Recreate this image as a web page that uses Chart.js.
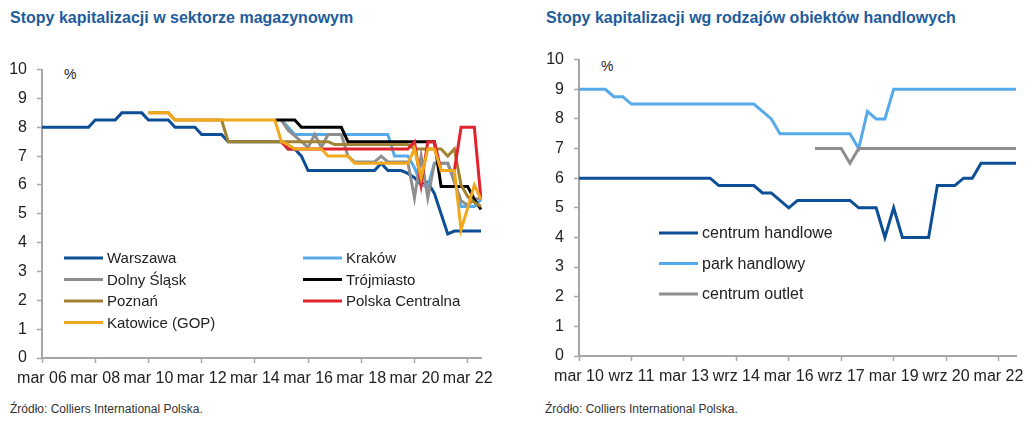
<!DOCTYPE html>
<html>
<head>
<meta charset="utf-8">
<script src="https://cdn.jsdelivr.net/npm/chart.js@4.4.1/dist/chart.umd.min.js"></script>
<style>
  body { margin: 0; width: 1036px; height: 421px; background: #fff; position: relative; overflow: hidden; font-family: 'Liberation Sans', Arial, sans-serif; }
  .title { position: absolute; top: 9px; font-weight: bold; font-size: 16px; color: #1f5c9c; white-space: nowrap; }
  .src { position: absolute; top: 402px; font-size: 12px; color: #333; white-space: nowrap; }
  .pct { position: absolute; font-size: 14px; color: #222; }
  .box { position: absolute; }
</style>
</head>
<body>
<div class="title" style="left:10px">Stopy kapitalizacji w sektorze magazynowym</div>
<div class="title" style="left:546px">Stopy kapitalizacji wg rodzajów obiektów handlowych</div>
<div class="pct" style="left:64px;top:66px">%</div>
<div class="pct" style="left:601px;top:58px">%</div>
<div class="box" style="left:0;top:50px;width:500px;height:345px"><canvas id="warehouse"></canvas></div>
<div class="box" style="left:530px;top:40px;width:506px;height:355px"><canvas id="retail"></canvas></div>
<div class="src" style="left:10px">Źródło: Colliers International Polska.</div>
<div class="src" style="left:545px">Źródło: Colliers International Polska.</div>
<script>
// quarterly categories (mar, cze, wrz, gru)
const months = ['mar', 'cze', 'wrz', 'gru'];
function quarters(startYear, count) {
  const out = [];
  for (let i = 0; i < count; i++) {
    const yy = String((startYear + Math.floor(i / 4)) % 100).padStart(2, '0');
    out.push(months[i % 4] + ' ' + yy);
  }
  return out;
}

// left chart: mar 06 .. wrz 22
const whQuarters = quarters(2006, 67);
const whTicks = ['mar 06', 'mar 08', 'mar 10', 'mar 12', 'mar 14', 'mar 16', 'mar 18', 'mar 20', 'mar 22'];
const _ = null;

const warszawa = [8, 8, 8, 8, 8, 8, 8, 8, 8.25, 8.25, 8.25, 8.25, 8.5, 8.5, 8.5, 8.5,
  8.25, 8.25, 8.25, 8.25, 8, 8, 8, 8, 7.75, 7.75, 7.75, 7.75, 7.5, 7.5, 7.5, 7.5, 7.5, 7.5, 7.5, 7.5, 7.5,
  7.25, 7.25, 7, 6.5, 6.5, 6.5, 6.5, 6.5, 6.5, 6.5, 6.5, 6.5, 6.5, 6.5, 6.75, 6.5, 6.5, 6.5,
  6.4, 6.25, 6, 6.1, 5.7, 5, 4.3, 4.4, 4.4, 4.4, 4.4, 4.4];
const krakow = [_, _, _, _, _, _, _, _, _, _, _, _, _, _, _, _, _, _, _, _, _, _, _, _, _, _, _, _, _, _, _, _, _, _, _, _,
  8.25, 8, 7.75, 7.75, 7.75, 7.75, 7.75, 7.75, 7.75, 7.75, 7.75, 7.75, 7.75, 7.75, 7.75, 7.75, 7.75,
  7, 7, 7, 6.6, 6, 5.95, 6.75, 6.75, 6.75, 6.2, 5.25, 5.25, 5.25, 5.5];
const dolnySlask = [_, _, _, _, _, _, _, _, _, _, _, _, _, _, _, _, _, _, _, _, _, _, _, _, _, _, _, _, _, _, _, _, _, _, _, _,
  8.25, 7.9, 7.7, 7.5, 7.3, 7.75, 7.3, 7.75, 7.75, 7.75, 7, 6.8, 6.8, 6.8, 6.8, 7, 6.8, 6.8, 6.8, 6.8,
  5.55, 7, 5.55, 6.75, 6.75, 6.75, 6.1, 5.45, 5.3, 5.5, 5.55];
const trojmiasto = [_, _, _, _, _, _, _, _, _, _, _, _, _, _, _, _, _, _, _, _, _, _, _, _, _, _, _, _, _, _, _, _, _, _, _,
  8.25, 8.25, 8.25, 8.25, 8, 8, 8, 8, 8, 8, 8, 7.5, 7.5, 7.5, 7.5, 7.5, 7.5, 7.5, 7.5, 7.5, 7.5, 7.5, 7.5, 7.5, 7.5,
  5.95, 5.95, 5.95, 5.95, 5.95, 5.5, 5.15];
const poznan = [_, _, _, _, _, _, _, _, _, _, _, _, _, _, _, _,
  8.5, 8.5, 8.5, 8.5, 8.25, 8.25, 8.25, 8.25, 8.25, 8.25, 8.25, 8.25,
  7.5, 7.5, 7.5, 7.5, 7.5, 7.5, 7.5, 7.5, 7.5, 7.5, 7.5, 7.5, 7.5, 7.5, 7.5, 7.5, 7.4, 7.4, 7.4, 7.4, 7.4, 7.4, 7.4, 7.4, 7.4, 7.4, 7.4, 7.4,
  7.25, 7.25, 7.25, 7.25, 7.25, 7, 7.25, 6, 5.6, 5.4, 5.25];
const polskaCentralna = [_, _, _, _, _, _, _, _, _, _, _, _, _, _, _, _, _, _, _, _, _, _, _, _, _, _, _, _, _, _, _, _, _, _, _, _,
  7.5, 7.25, 7.25, 7.25, 7.25, 7.25, 7.25, 7.25, 7.25, 7.25, 7.25, 7.25, 7.25, 7.25, 7.25, 7.25, 7.25, 7.25, 7.25, 7.25,
  7.5, 6, 7.5, 7.5, 6.5, 6.5, 6.5, 8, 8, 8, 5.5];
const katowice = [_, _, _, _, _, _, _, _, _, _, _, _, _, _, _, _,
  8.5, 8.5, 8.5, 8.5, 8.25, 8.25, 8.25, 8.25, 8.25, 8.25, 8.25, 8.25, 8.25, 8.25, 8.25, 8.25, 8.25, 8.25, 8.25, 8.25,
  7.5, 7.4, 7.25, 7.25, 7.25, 7.25, 7.25, 7, 7, 7, 7, 6.75, 6.75, 6.75, 6.75, 6.75, 6.75, 6.75, 6.75, 6.75,
  7.25, 6.25, 7.25, 7.25, 6.5, 6.5, 6.5, 4.45, 5.2, 6, 5.5];

const whNames = ['Warszawa', 'Kraków', 'Dolny Śląsk', 'Trójmiasto', 'Poznań', 'Polska Centralna', 'Katowice (GOP)'];
const whSeries = [warszawa, krakow, dolnySlask, trojmiasto, poznan, polskaCentralna, katowice];
const whColors = ['#0d4f96', '#56aaea', '#8e8e8e', '#000000', '#a08232', '#e1232d', '#f2a81d'];

// right chart: mar 10 .. wrz 22
const rtQuarters = quarters(2010, 51);
const rtTicks = ['mar 10', 'wrz 11', 'mar 13', 'wrz 14', 'mar 16', 'wrz 17', 'mar 19', 'wrz 20', 'mar 22'];

const centrumHandlowe = [6, 6, 6, 6, 6, 6, 6, 6, 6, 6, 6, 6, 6, 6, 6, 6,
  5.75, 5.75, 5.75, 5.75, 5.75, 5.5, 5.5, 5.25, 5, 5.25, 5.25, 5.25, 5.25, 5.25, 5.25, 5.25,
  5, 5, 5, 4, 5, 4, 4, 4, 4, 5.75, 5.75, 5.75, 6, 6, 6.5, 6.5, 6.5, 6.5, 6.5];
const parkHandlowy = [9, 9, 9, 9, 8.75, 8.75, 8.5, 8.5, 8.5, 8.5, 8.5, 8.5, 8.5, 8.5, 8.5, 8.5, 8.5, 8.5, 8.5, 8.5, 8.5,
  8.25, 8, 7.5, 7.5, 7.5, 7.5, 7.5, 7.5, 7.5, 7.5, 7.5, 7, 8.25, 8, 8,
  9, 9, 9, 9, 9, 9, 9, 9, 9, 9, 9, 9, 9, 9, 9];
const centrumOutlet = [_, _, _, _, _, _, _, _, _, _, _, _, _, _, _, _, _, _, _, _, _, _, _, _, _, _, _,
  7, 7, 7, 7, 6.5, 7, 7, 7, 7, 7, 7, 7, 7, 7, 7, 7, 7, 7, 7, 7, 7, 7, 7, 7];

const rtNames = ['centrum handlowe', 'park handlowy', 'centrum outlet'];
const rtSeries = [centrumHandlowe, parkHandlowy, centrumOutlet];
const rtColors = ['#0d4f96', '#56aaea', '#8e8e8e'];

const axisColor = '#a6a6a6';
const tickFont = { family: "'Liberation Sans Narrow', 'Liberation Sans', sans-serif", size: 16 };

// legend drawn inside the plot area, laid out in a grid
const gridLegend = {
  id: 'gridLegend',
  afterDatasetsDraw(chart, args, opts) {
    const ctx = chart.ctx;
    ctx.save();
    ctx.font = opts.font;
    ctx.textBaseline = 'middle';
    chart.data.datasets.forEach((ds, i) => {
      const col = i % opts.cols, row = Math.floor(i / opts.cols);
      const x = opts.x + col * opts.colWidth;
      const y = opts.y + row * opts.rowHeight;
      ctx.strokeStyle = ds.borderColor;
      ctx.lineWidth = 3;
      ctx.beginPath();
      ctx.moveTo(x, y);
      ctx.lineTo(x + opts.lineLen, y);
      ctx.stroke();
      ctx.fillStyle = '#222';
      ctx.fillText(ds.label, x + opts.lineLen + 4, y + 1);
    });
    ctx.restore();
  }
};

function makeChart(id, cats, names, series, colors, tickLabels, every, legend, pad, yWidth, xHeight) {
  return new Chart(document.getElementById(id), {
    type: 'line',
    data: {
      labels: cats,
      datasets: series.map((s, i) => ({
        label: names[i],
        data: s,
        borderColor: colors[i],
        borderWidth: 3,
        pointRadius: 0,
        tension: 0,
        fill: false,
        order: series.length - i
      }))
    },
    options: {
      responsive: true,
      maintainAspectRatio: false,
      animation: false,
      layout: { padding: pad },
      plugins: { legend: { display: false }, tooltip: { enabled: false }, gridLegend: legend },
      scales: {
        x: {
          offset: false,
          border: { display: true, color: axisColor, width: 2 },
          grid: {
            drawOnChartArea: false,
            tickLength: 5,
            tickWidth: 1.5,
            tickColor: c => (c.index % every === 0 ? axisColor : 'rgba(0,0,0,0)')
          },
          ticks: {
            autoSkip: false,
            maxRotation: 0,
            minRotation: 0,
            padding: 6,
            color: '#222',
            font: tickFont,
            callback: (v, i) => (i % every === 0 ? tickLabels[i / every] : '')
          },
          afterFit: s => { s.height = xHeight; }
        },
        y: {
          min: 0,
          max: 10,
          border: { display: true, color: axisColor, width: 2 },
          grid: { drawOnChartArea: false, tickLength: 5, tickWidth: 1.5, color: axisColor },
          ticks: { stepSize: 1, padding: 10, color: '#222', font: tickFont },
          afterFit: s => { s.width = yWidth; }
        }
      }
    },
    plugins: [gridLegend]
  });
}

makeChart('warehouse', whQuarters, whNames, whSeries, whColors, whTicks, 8,
  { x: 64, y: 208, cols: 2, colWidth: 239, rowHeight: 21.5, lineLen: 39, font: "15px 'Liberation Sans', sans-serif" },
  { top: 12, right: 19, left: 0, bottom: 0 }, 42, 37);

makeChart('retail', rtQuarters, rtNames, rtSeries, rtColors, rtTicks, 6,
  { x: 129, y: 193, cols: 1, colWidth: 0, rowHeight: 30.5, lineLen: 39, font: "16px 'Liberation Sans', sans-serif" },
  { top: 12, right: 20, left: 0, bottom: 0 }, 49, 39);
</script>
</body>
</html>
